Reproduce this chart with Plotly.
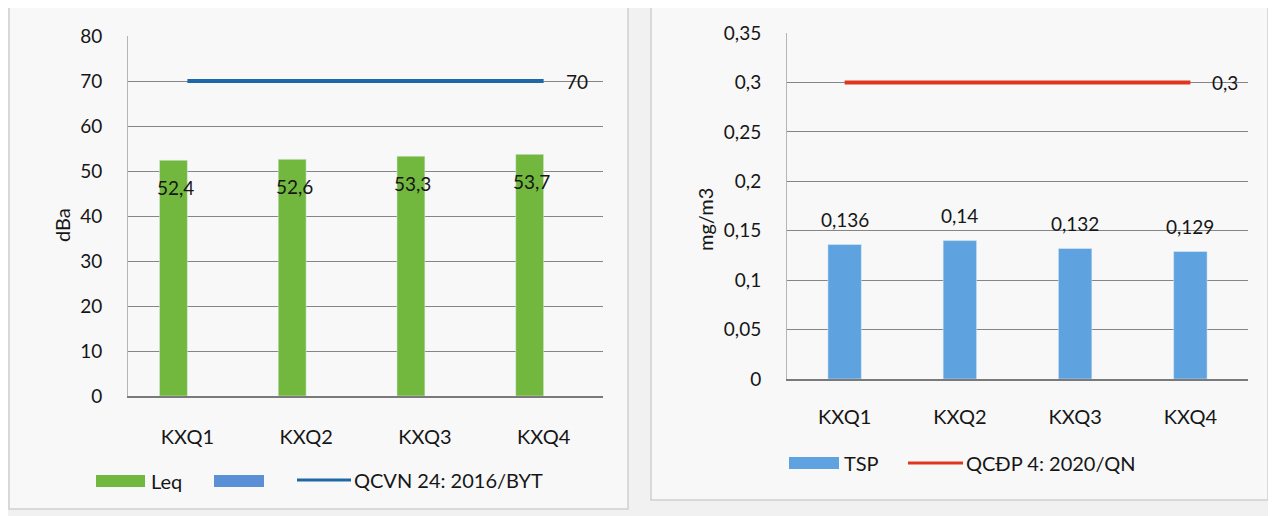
import plotly.graph_objects as go

categories = ["KXQ1", "KXQ2", "KXQ3", "KXQ4"]
leq_values = [52.4, 52.6, 53.3, 53.7]
leq_labels = ["52,4", "52,6", "53,3", "53,7"]
qcvn_limit = [70, 70, 70, 70]
tsp_values = [0.136, 0.14, 0.132, 0.129]
tsp_labels = ["0,136", "0,14", "0,132", "0,129"]
qcdp_limit = [0.3, 0.3, 0.3, 0.3]

name_leq = "Leq"
name_empty = " "
name_qcvn = "QCVN 24: 2016/BYT"
name_tsp = "TSP"
name_qcdp = "QCĐP 4: 2020/QN"

C_GREEN = "#72b83e"
C_BLUE_EMPTY = "#5b8fd6"
C_BLUE_LINE = "#1f68a8"
C_TSP = "#5ea3df"
C_RED = "#e0361f"

# page body has an 8px margin: figure coordinates = reference coordinates - 8
OFF = 8
W, H = 1268, 508
FONT = "Lato"
TXT = "#161616"
GRID = "#858585"


def px(x):
    return (x - OFF) / W


def py(y):
    return 1 - (y - OFF) / H


fig = go.Figure()

# Left chart
fig.add_trace(go.Bar(x=categories, y=leq_values, name=name_leq, marker_color=C_GREEN,
                     width=0.235, offset=-0.235, xaxis="x", yaxis="y", showlegend=False))
fig.add_trace(go.Scatter(x=categories, y=qcvn_limit, mode="lines", name=name_qcvn,
                         line=dict(color=C_BLUE_LINE, width=4), xaxis="x", yaxis="y",
                         showlegend=False))

# Right chart
fig.add_trace(go.Bar(x=categories, y=tsp_values, name=name_tsp, marker_color=C_TSP,
                     width=0.29, xaxis="x2", yaxis="y2", showlegend=False))
fig.add_trace(go.Scatter(x=categories, y=qcdp_limit, mode="lines", name=name_qcdp,
                         line=dict(color=C_RED, width=4), xaxis="x2", yaxis="y2",
                         showlegend=False))

LBL = dict(family=FONT, size=19, color=TXT)
annotations = []
for c, v, t in zip(categories, leq_values, leq_labels):
    annotations.append(dict(x=c, y=v, xref="x", yref="y", text=t, showarrow=False,
                            xshift=-12, yshift=-27, font=LBL))
annotations.append(dict(x=categories[-1], y=qcvn_limit[-1], xref="x", yref="y", text="70",
                        showarrow=False, xshift=33, yshift=0, font=LBL))
for c, v, t in zip(categories, tsp_values, tsp_labels):
    annotations.append(dict(x=c, y=v, xref="x2", yref="y2", text=t, showarrow=False,
                            yshift=25, font=LBL))
annotations.append(dict(x=categories[-1], y=qcdp_limit[-1], xref="x2", yref="y2", text="0,3",
                        showarrow=False, xshift=35, yshift=0, font=LBL))
annotations.append(dict(x=px(62), y=py(225), xref="paper", yref="paper", text="dBa",
                        xanchor="center", yanchor="middle",
                        textangle=-90, showarrow=False, font=dict(family=FONT, size=20, color=TXT)))
annotations.append(dict(x=px(705), y=py(220), xref="paper", yref="paper", text="mg/m3",
                        xanchor="center", yanchor="middle",
                        textangle=-90, showarrow=False, font=dict(family=FONT, size=20, color=TXT)))

shapes = [
    dict(type="rect", xref="paper", yref="paper", x0=px(9), x1=px(628), y0=py(509), y1=py(6),
         line=dict(color="#cfcfcf", width=1.5), fillcolor="#f8f8f8", layer="below"),
    dict(type="rect", xref="paper", yref="paper", x0=px(651), x1=px(1268), y0=py(500), y1=py(3),
         line=dict(color="#cfcfcf", width=1.5), fillcolor="#f8f8f8", layer="below"),
]

# legends (drawn) -------------------------------------------------------
LEG = dict(family=FONT, size=20, color=TXT)


def swatch(x0, x1, yc, color):
    shapes.append(dict(type="rect", xref="paper", yref="paper", x0=px(x0), x1=px(x1),
                       y0=py(yc + 6), y1=py(yc - 6), line=dict(width=0), fillcolor=color))


def lineswatch(x0, x1, yc, color):
    shapes.append(dict(type="line", xref="paper", yref="paper", x0=px(x0), x1=px(x1),
                       y0=py(yc), y1=py(yc), line=dict(color=color, width=3)))


def legtext(x, yc, text):
    annotations.append(dict(x=px(x), y=py(yc), xref="paper", yref="paper", text=text,
                            xanchor="left", yanchor="middle", showarrow=False, font=LEG))


swatch(96, 145, 481, C_GREEN)
legtext(149, 481, name_leq)
swatch(214, 264, 481, C_BLUE_EMPTY)
lineswatch(297, 351, 480, C_BLUE_LINE)
legtext(352, 480, name_qcvn)

swatch(789, 839, 463, C_TSP)
legtext(842, 463, name_tsp)
lineswatch(908, 963, 463, C_RED)
legtext(964, 463, name_qcdp)

tick_font = dict(family=FONT, size=19, color=TXT)
cat_font = dict(family=FONT, size=20, color=TXT)

fig.update_layout(
    width=W, height=H,
    margin=dict(l=0, r=0, t=0, b=0, autoexpand=False),
    paper_bgcolor="#f1f1f1",
    plot_bgcolor="rgba(0,0,0,0)",
    separators=", ",
    barmode="overlay",
    showlegend=False,
    font=dict(family=FONT, size=19, color=TXT),
    xaxis=dict(domain=[px(128), px(603)], anchor="y", range=[-0.5, 3.5], automargin=False,
               showgrid=False, showline=True, linecolor="#7a7a7a", linewidth=1.5,
               tickfont=cat_font, ticks="", ticklabelstandoff=22, fixedrange=True),
    yaxis=dict(domain=[py(396), py(36)], anchor="x", range=[0, 80], dtick=10, automargin=False,
               showgrid=True, gridcolor=GRID, gridwidth=1, zeroline=False,
               showline=True, linecolor="#b5b5b5", linewidth=1,
               tickfont=tick_font, ticks="", ticklabelstandoff=21),
    xaxis2=dict(domain=[px(787), px(1248)], anchor="y2", range=[-0.5, 3.5], automargin=False,
                showgrid=False, showline=True, linecolor="#7a7a7a", linewidth=1.5,
                tickfont=cat_font, ticks="", ticklabelstandoff=19),
    yaxis2=dict(domain=[py(379), py(33)], anchor="x2", range=[0, 0.35], dtick=0.05,
                automargin=False,
                showgrid=True, gridcolor=GRID, gridwidth=1, zeroline=False,
                showline=True, linecolor="#b5b5b5", linewidth=1,
                tickfont=tick_font, ticks="", ticklabelstandoff=21),
    annotations=annotations,
    shapes=shapes,
)

fig.write_html("out.html")
